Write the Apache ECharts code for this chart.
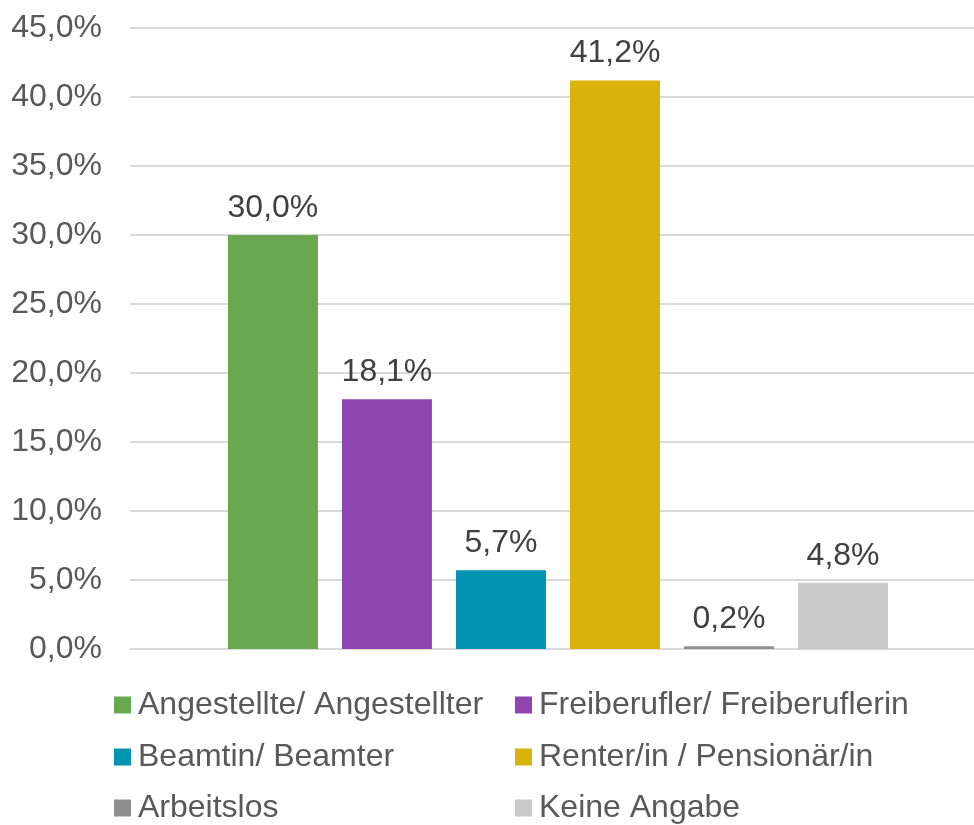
<!DOCTYPE html>
<html>
<head>
<meta charset="utf-8">
<script src="https://cdn.jsdelivr.net/npm/echarts@6/dist/echarts.min.js"></script>
<style>
  html, body { margin: 0; padding: 0; background: #fff; }
  #chart { width: 974px; height: 825px; }
</style>
</head>
<body>
<div id="chart"></div>
<script>
// data
const seriesNames = [
  "Angestellte/ Angestellter",
  "Freiberufler/ Freiberuflerin",
  "Beamtin/ Beamter",
  "Renter/in / Pensionär/in",
  "Arbeitslos",
  "Keine Angabe",
];
const seriesValues = [30.0, 18.1, 5.7, 41.2, 0.2, 4.8];
const seriesColors = ["#6aa84f", "#8e45b0", "#0094b3", "#d9b20c", "#8f8f8f", "#c9c9c9"];
const category = [""];

const fmt = (v) => v.toFixed(1).replace(".", ",") + "%";
const fontFam = "Liberation Sans, Arial, sans-serif";
const textColor = "#595959";

const chart = echarts.init(document.getElementById("chart"));

const series = seriesNames.map((name, i) => ({
  type: "bar",
  name: name,
  data: [seriesValues[i]],
  barWidth: 90,
  barGap: "26.7%",
  itemStyle: { color: seriesColors[i] },
  label: {
    show: true,
    position: "top",
    distance: 11,
    formatter: (p) => fmt(p.value),
    color: "#404040",
    fontSize: 32,
    fontFamily: fontFam,
  },
}));

// one legend per entry, laid out as two columns of three rows
const legendLeft = [114, 515];
const legendTop = [689, 741, 792];
const legends = seriesNames.map((name, i) => ({
  data: [name],
  left: legendLeft[i % 2],
  top: legendTop[Math.floor(i / 2)],
  icon: "rect",
  itemWidth: 17,
  itemHeight: 17,
  padding: 0,
  textStyle: {
    color: textColor,
    fontSize: 32,
    fontFamily: fontFam,
    lineHeight: 32,
    padding: [0, 0, 0, 2],
  },
}));

chart.setOption({
  animation: false,
  // plot area runs a little past the right edge, as in the original
  grid: { left: 130, right: -12, top: 28, bottom: 176, outerBoundsMode: "none" },
  legend: legends,
  xAxis: {
    type: "category",
    data: category,
    axisTick: { show: false },
    axisLabel: { show: false },
    axisLine: { lineStyle: { color: "#d9d9d9", width: 2 } },
  },
  yAxis: {
    type: "value",
    min: 0,
    max: 45,
    interval: 5,
    axisLabel: {
      formatter: (v) => fmt(v),
      color: textColor,
      fontSize: 32,
      fontFamily: fontFam,
      margin: 28,
    },
    splitLine: { lineStyle: { color: "#d9d9d9", width: 2 } },
  },
  series: series,
});
</script>
</body>
</html>
